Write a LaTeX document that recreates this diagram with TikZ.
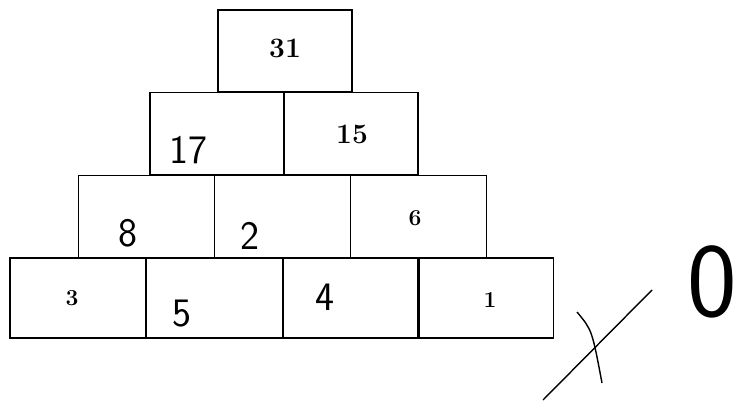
\documentclass[tikz,border=0pt]{standalone}
\usepackage{xcolor}
\usepackage{tikz}
\usetikzlibrary{positioning}

\begin{document}
\begin{tikzpicture}[
    x=0.02cm, y=-0.02cm,
    brick/.style={draw, line width=1pt, rectangle, inner sep=0pt, outer sep=0pt,
        minimum width=2.72cm, minimum height=1.64cm},
    print/.style={font=\fontsize{13}{13}\selectfont\bfseries},
    hand/.style={font=\sffamily\fontsize{23}{23}\selectfont},
]
\useasboundingbox (0,0) rectangle (740,405);

\node[brick, minimum width=2.68cm] (t) at (285, 51) {};
\node[brick, minimum width=2.68cm] (m1) at (217, 133.5) {};
\node[brick, minimum width=2.68cm] (m2) at (351, 133.5) {};
\node[brick] (r1) at (146.5, 216.5) {};
\node[brick] (r2) at (282.5, 216.5) {};
\node[brick] (r3) at (418.5, 216.5) {};
\node[brick, minimum height=1.6cm] (b1) at (78, 298) {};
\node[brick, minimum height=1.6cm] (b2) at (214.5, 298) {};
\node[brick, minimum height=1.6cm] (b3) at (351, 298) {};
\node[brick, minimum height=1.6cm] (b4) at (485.5, 298) {};

% printed values
\node[print, font=\fontsize{16}{16}\selectfont\bfseries] (v31) at (285, 48) {31};
\node[print, font=\fontsize{16}{16}\selectfont\bfseries] (v15) at (352, 134) {15};
\node[print] (v6) at (415, 218) {6};
\node[print] (v3) at (72, 298) {3};
\node[print] (v1) at (490, 300) {1};

% handwritten values
\node[hand] (w17) at (188, 150) {17};
\node[hand] (w8) at (128, 233) {8};
\node[hand] (w2) at (250, 236) {2};
\node[hand] (w5) at (182, 314) {5};
\node[hand] (w4) at (325, 297) {4};
\node[hand, font=\sffamily\fontsize{60}{60}\selectfont] (w0) at (712, 282) {0};

% mark
\coordinate (c1) at (543, 400);
\coordinate (c2) at (652, 290);
\draw[line width=0.8pt] (c1) -- (c2);
\draw[line width=0.8pt] (577, 312) .. controls (592, 330) .. (602, 383);
\end{tikzpicture}
\end{document}
